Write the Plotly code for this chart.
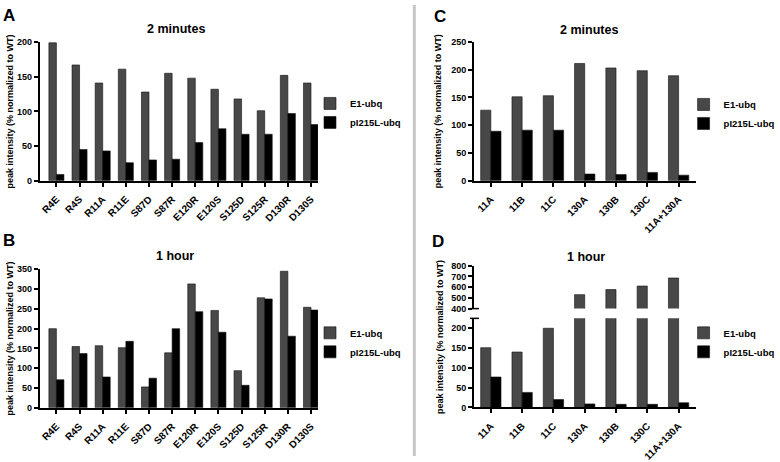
import plotly.graph_objects as go

# ---------------- data ----------------
cats_ab = ["R4E", "R4S", "R11A", "R11E", "S87D", "S87R", "E120R", "E120S",
           "S125D", "S125R", "D130R", "D130S"]
a_e1 = [199, 167, 141, 161, 128, 155, 148, 132, 118, 101, 152, 141]
a_pi = [9, 45, 43, 26, 30, 31, 55, 75, 67, 67, 97, 81]
b_e1 = [200, 155, 157, 152, 53, 139, 313, 246, 94, 278, 345, 254]
b_pi = [71, 137, 78, 168, 75, 200, 243, 191, 57, 275, 181, 247]

cats_cd = ["11A", "11B", "11C", "130A", "130B", "130C", "11A+130A"]
c_e1 = [127, 151, 153, 211, 203, 198, 189]
c_pi = [89, 91, 91, 12, 11, 15, 10]
d_e1 = [151, 140, 200, 530, 577, 610, 685]
d_pi = [77, 38, 20, 9, 8, 8, 12]

ticks_a = [0, 50, 100, 150, 200]
ticks_b = [0, 50, 100, 150, 200, 250, 300, 350]
ticks_c = [0, 50, 100, 150, 200, 250]
ticks_d_low = [0, 50, 100, 150, 200]
ticks_d_high = [400, 500, 600, 700, 800]

names = ["E1-ubq", "pI215L-ubq"]
GRAY = "#484848"
BLACK = "#000000"
FONT = "Liberation Sans, Arial, sans-serif"
W, H = 780, 462


def px(x):
    return x / W


def py(y):
    return 1 - y / H


fig = go.Figure()


def add_pair(xcats, e1, pi, xa, ya, legend, show=True):
    for nm, vals, col in ((names[0], e1, GRAY), (names[1], pi, BLACK)):
        fig.add_trace(go.Bar(
            x=xcats, y=vals, name=nm, xaxis=xa, yaxis=ya,
            marker=dict(color=col, line=dict(color="#111111", width=0.6)),
            legend=legend, showlegend=show,
        ))


add_pair(cats_ab, a_e1, a_pi, "x", "y", "legend")
add_pair(cats_ab, b_e1, b_pi, "x2", "y2", "legend2")
add_pair(cats_cd, c_e1, c_pi, "x3", "y3", "legend3")
add_pair(cats_cd, d_e1, d_pi, "x4", "y4", "legend4")
add_pair(cats_cd, d_e1, d_pi, "x5", "y5", "legend4", show=False)

ytickfont = dict(family=FONT, size=9, color="black", weight="bold")
xtickfont = dict(family=FONT, size=10, color="black", weight="bold")
ax_common = dict(showline=True, linecolor="black", linewidth=1.8,
                 ticks="outside", ticklen=4, tickwidth=1.5, tickcolor="black",
                 showgrid=False, zeroline=False)
xa_common = dict(ax_common, tickfont=xtickfont, tickangle=-45, autotickangles=[-45],
                 ticklabelstandoff=3)
ya_common = dict(ax_common, tickfont=ytickfont)

xdom_l = [px(40), px(320)]
xdom_r = [px(477), px(700)]
title_font = dict(family=FONT, size=9, color="black", weight="bold")
ytitle = "peak intensity (% normalized to WT)"

fig.update_layout(
    width=W, height=H, margin=dict(l=0, r=0, t=0, b=0),
    paper_bgcolor="white", plot_bgcolor="white",
    barmode="group", bargap=0.35, bargroupgap=0,
    font=dict(family=FONT, color="black"),
    xaxis=dict(domain=xdom_l, anchor="y", range=[-0.72, 11.3], **xa_common),
    yaxis=dict(domain=[py(180), py(38)], anchor="x", range=[0, 200], tickvals=ticks_a,
               title=dict(text=ytitle, font=title_font, standoff=2), **ya_common),
    xaxis2=dict(domain=xdom_l, anchor="y2", range=[-0.72, 11.3], **xa_common),
    yaxis2=dict(domain=[py(412.7), py(270.7)], anchor="x2", range=[0, 350], tickvals=ticks_b,
                title=dict(text=ytitle, font=title_font, standoff=2), **ya_common),
    xaxis3=dict(domain=xdom_r, anchor="y3", range=[-0.54, 6.54], **xa_common),
    yaxis3=dict(domain=[py(180), py(37.7)], anchor="x3", range=[0, 250], tickvals=ticks_c,
                title=dict(text=ytitle, font=title_font, standoff=8), **ya_common),
    xaxis4=dict(domain=xdom_r, anchor="y4", range=[-0.54, 6.54], **xa_common),
    yaxis4=dict(domain=[py(412.3), py(321)], anchor="x4", range=[0, 225], tickvals=ticks_d_low,
                **ya_common),
    xaxis5=dict(domain=xdom_r, anchor="y5", range=[-0.54, 6.54], visible=False),
    yaxis5=dict(domain=[py(311), py(267)], anchor="x5", range=[400, 800], tickvals=ticks_d_high,
                **ya_common),
)

leg_common = dict(font=dict(family=FONT, size=9.5, color="black", weight="bold"),
                  xanchor="left", yanchor="top", bgcolor="rgba(0,0,0,0)",
                  tracegroupgap=0, itemwidth=30)
fig.update_layout(
    legend=dict(x=px(312), y=py(86), **leg_common),
    legend2=dict(x=px(312), y=py(321), **leg_common),
    legend3=dict(x=px(688), y=py(87), **leg_common),
    legend4=dict(x=px(688), y=py(321), **leg_common),
)

annotations = []
for txt, x, y in (("A", 9, 11), ("B", 9, 241), ("C", 443, 12), ("D", 441, 242)):
    annotations.append(dict(text=txt, x=px(x), y=py(y), xref="paper", yref="paper",
                            showarrow=False, xanchor="center", yanchor="middle",
                            font=dict(family=FONT, size=17, color="black", weight="bold")))
for txt, x, y in (("2 minutes", 177, 25), ("1 hour", 176, 257),
                  ("2 minutes", 593, 26), ("1 hour", 590, 258)):
    annotations.append(dict(text=txt, x=px(x), y=py(y), xref="paper", yref="paper",
                            showarrow=False, xanchor="center", yanchor="middle",
                            font=dict(family=FONT, size=12.5, color="black", weight="bold")))
annotations.append(dict(text=ytitle, x=px(443), y=py(340), xref="paper", yref="paper",
                        showarrow=False, textangle=-90, xanchor="center", yanchor="middle",
                        font=title_font))
fig.update_layout(annotations=annotations)

shapes = [
    dict(type="line", xref="paper", yref="paper", x0=px(417), x1=px(417), y0=0, y1=1,
         line=dict(color="#c8c8c8", width=3)),
    dict(type="line", xref="paper", yref="paper", x0=px(473), x1=px(482), y0=py(311), y1=py(311),
         line=dict(color="black", width=1.5)),
    dict(type="line", xref="paper", yref="paper", x0=px(473), x1=px(482), y0=py(321), y1=py(321),
         line=dict(color="black", width=1.5)),
]
fig.update_layout(shapes=shapes)

fig.write_html("out.html")
